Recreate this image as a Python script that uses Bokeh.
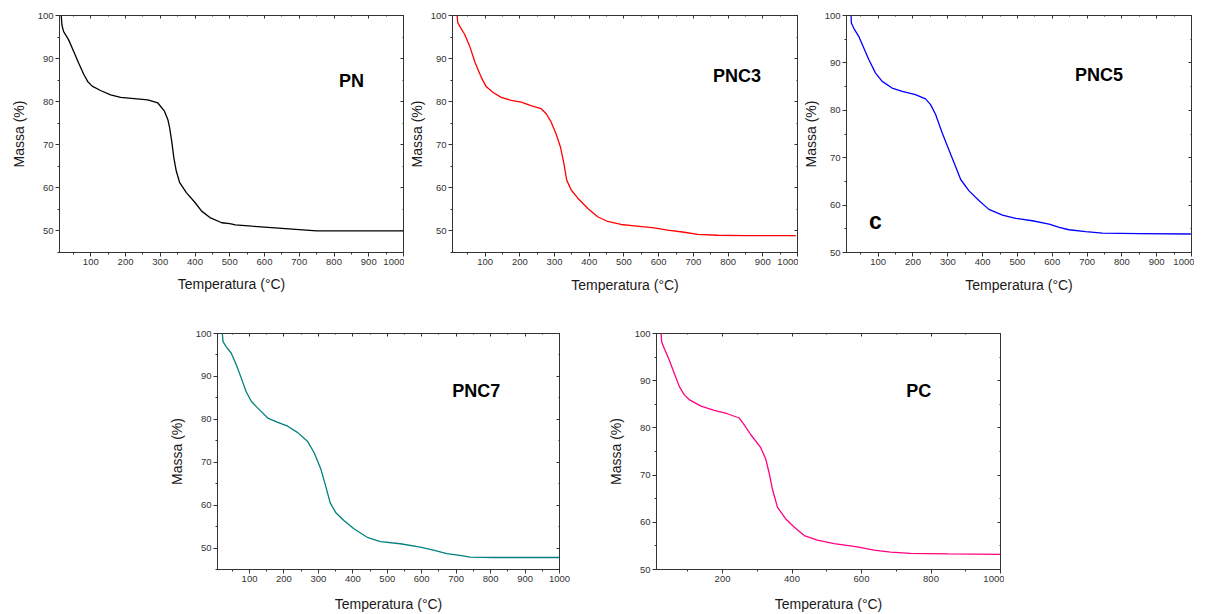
from bokeh.plotting import figure
from bokeh.models import (Range1d, SingleIntervalTicker, LinearAxis, Label,
                          CustomJSTickFormatter, Spacer)
from bokeh.layouts import row, column
from bokeh.embed import file_html
from bokeh.resources import INLINE

# ---------------- data ----------------
pn_temp = [15, 17, 21.5, 36, 50.6, 65, 80, 91, 104, 128, 157, 186, 225, 264, 293, 312,
           322, 327, 333, 339, 346, 356, 375, 400, 419, 443, 477, 500, 516, 564, 600,
           650, 700, 750, 800, 900, 1000]
pn_mass = [100, 97.8, 96.3, 94.4, 91.7, 89.0, 86.3, 84.7, 83.6, 82.6, 81.6, 81.0, 80.7,
           80.4, 79.7, 77.8, 75.8, 73.9, 70.8, 67.0, 63.9, 61.2, 58.9, 56.6, 54.6, 53.1,
           51.9, 51.7, 51.4, 51.1, 50.9, 50.6, 50.3, 50.0, 50.0, 50.0, 50.0]

pnc3_temp = [19.4, 21, 29, 40.5, 55, 71, 88.5, 103, 122, 146, 175, 204, 232, 261, 276,
             290, 304, 317, 327, 335, 348, 367, 396, 424, 453, 491.5, 530, 587.5, 626,
             674, 712, 770, 850, 995]
pnc3_mass = [100, 98.4, 97.2, 95.7, 93.0, 89.1, 85.7, 83.5, 82.2, 81.0, 80.3, 79.9, 79.1,
             78.4, 77.2, 75.3, 72.6, 69.5, 65.6, 61.8, 59.5, 57.6, 55.2, 53.3, 52.2, 51.5,
             51.2, 50.7, 50.2, 49.7, 49.2, 49.0, 48.9, 48.9]

pnc5_temp = [22, 23, 30, 44, 59, 73, 92, 111.5, 140, 169, 207, 236, 250.5, 265, 284, 303,
             322, 337, 361, 390, 418, 457, 495, 543, 591, 620, 648, 696, 744, 850, 998]
pnc5_mass = [100, 98.4, 97.3, 95.6, 93.1, 90.7, 87.9, 86.1, 84.7, 84.0, 83.3, 82.4, 81.2,
             79.1, 75.2, 71.7, 68.2, 65.4, 63.0, 60.9, 59.1, 57.9, 57.2, 56.7, 56.0, 55.3,
             54.8, 54.4, 54.1, 54.0, 53.9]

pnc7_temp = [21, 23, 32.6, 47, 61.5, 76, 90, 105, 124, 153, 182, 211, 240, 268, 287.7,
             307, 321, 334, 350, 374, 403, 441.7, 480, 538, 595.7, 634, 672.7, 711, 740,
             807, 1000]
pnc7_mass = [100, 98.1, 96.9, 95.4, 92.7, 89.6, 86.5, 84.2, 82.6, 80.3, 79.3, 78.4, 76.9,
             74.9, 72.2, 68.4, 64.5, 60.6, 58.3, 56.4, 54.5, 52.5, 51.5, 51.0, 50.2, 49.5,
             48.7, 48.3, 47.9, 47.8, 47.8]

pc_temp = [23, 25, 32.4, 46.7, 61, 75.5, 90, 104, 138, 176, 214, 248, 262, 281, 310,
           324.5, 334, 343.7, 358, 382, 406, 435, 473, 521, 588, 636, 684, 741, 850, 1000]
pc_mass = [100, 98.2, 96.8, 94.4, 91.6, 88.8, 87.0, 86.0, 84.6, 83.7, 83.0, 82.1, 80.7,
           78.6, 75.8, 73.4, 70.5, 67.0, 63.2, 60.7, 59.0, 57.2, 56.2, 55.5, 54.8, 54.1,
           53.7, 53.4, 53.3, 53.2]

names = ["PN", "PNC3", "PNC5", "PNC7", "PC"]
colors = ["#000000", "#ff0000", "#0000ff", "#008080", "#ff0080"]
x_label = "Temperatura (°C)"
y_label = "Massa (%)"

FONT = "Liberation Sans"
AXC = "#333333"


def mirror(ticker):
    return LinearAxis(ticker=ticker,
                      formatter=CustomJSTickFormatter(code="return ''"),
                      major_label_text_font_size="0px", major_label_standoff=0,
                      major_tick_in=3, major_tick_out=0,
                      minor_tick_in=1, minor_tick_out=0,
                      axis_line_color=None,
                      major_tick_line_color=AXC, minor_tick_line_color=AXC)


def panel(temp, mass, color, name, lbl_xy, x0, ymin, xint, w, h, bl, br, bt, bb,
          xlab_standoff, ylab_standoff, extra=None):
    p = figure(width=w, height=h, x_range=Range1d(x0, 1000), y_range=Range1d(ymin, 100),
               output_backend="svg", toolbar_location=None,
               min_border_left=bl, min_border_right=br,
               min_border_top=bt, min_border_bottom=bb)
    p.grid.visible = False
    p.outline_line_color = AXC
    p.outline_line_alpha = 1
    p.outline_line_width = 1
    p.background_fill_color = "white"
    p.border_fill_color = "white"

    p.xaxis.ticker = SingleIntervalTicker(interval=xint, num_minor_ticks=2)
    p.yaxis.ticker = SingleIntervalTicker(interval=10, num_minor_ticks=2)
    for ax in (p.xaxis[0], p.yaxis[0]):
        ax.axis_line_color = AXC
        ax.major_tick_line_color = AXC
        ax.minor_tick_line_color = AXC
        ax.major_tick_in = 0
        ax.major_tick_out = 4
        ax.minor_tick_in = 0
        ax.minor_tick_out = 2
        ax.major_label_text_font = FONT
        ax.major_label_text_font_size = "9.5px"
        ax.major_label_text_color = "#333333"
        ax.major_label_standoff = 2
        ax.axis_label_text_font = FONT
        ax.axis_label_text_font_size = "14px"
        ax.axis_label_text_font_style = "normal"
        ax.axis_label_text_color = "#1a1a1a"
    p.xaxis.axis_label = x_label
    p.yaxis.axis_label = y_label
    p.xaxis.axis_label_standoff = xlab_standoff
    p.yaxis.axis_label_standoff = ylab_standoff

    p.add_layout(mirror(SingleIntervalTicker(interval=10, num_minor_ticks=2)), "right")
    p.add_layout(mirror(SingleIntervalTicker(interval=xint, num_minor_ticks=2)), "above")

    p.line(temp, mass, line_color=color, line_width=1.3)

    p.add_layout(Label(x=lbl_xy[0], y=lbl_xy[1], text=name, text_font=FONT,
                       text_font_style="bold", text_font_size="18px",
                       text_align="center", text_baseline="middle", text_color="#000000"))
    if extra is not None:
        p.add_layout(Label(x=extra[0], y=extra[1], text=extra[2], text_font=FONT,
                           text_font_style="bold", text_font_size="23px",
                           text_align="center", text_baseline="middle",
                           text_color="#000000"))
    return p


f1 = panel(pn_temp, pn_mass, colors[0], names[0], (850, 84.7), 10, 45, 100,
           404, 302, 59, 1, 14, 50, 8, 8)
f2 = panel(pnc3_temp, pnc3_mass, colors[1], names[1], (826, 85.9), 6, 45, 100,
           394, 302, 48, 1, 14, 50, 9, 3)
f3 = panel(pnc5_temp, pnc5_mass, colors[2], names[2], (734, 87.5), 9, 50, 100,
           396, 302, 48, 3, 15, 49, 9, 3, extra=(92, 56.6, "c"))
f4 = panel(pnc7_temp, pnc7_mass, colors[3], names[3], (758, 86.7), 7, 45, 100,
           439, 312, 59, 38, 31, 43, 11, 8)
f5 = panel(pc_temp, pc_mass, colors[4], names[4], (765, 87.9), 10, 50, 200,
           407, 312, 59, 4, 31, 43, 11, 8)

layout = column(row(f1, f2, f3), row(Spacer(width=158, height=312), f4, f5))

open("out.html", "w").write(file_html(layout, INLINE))
